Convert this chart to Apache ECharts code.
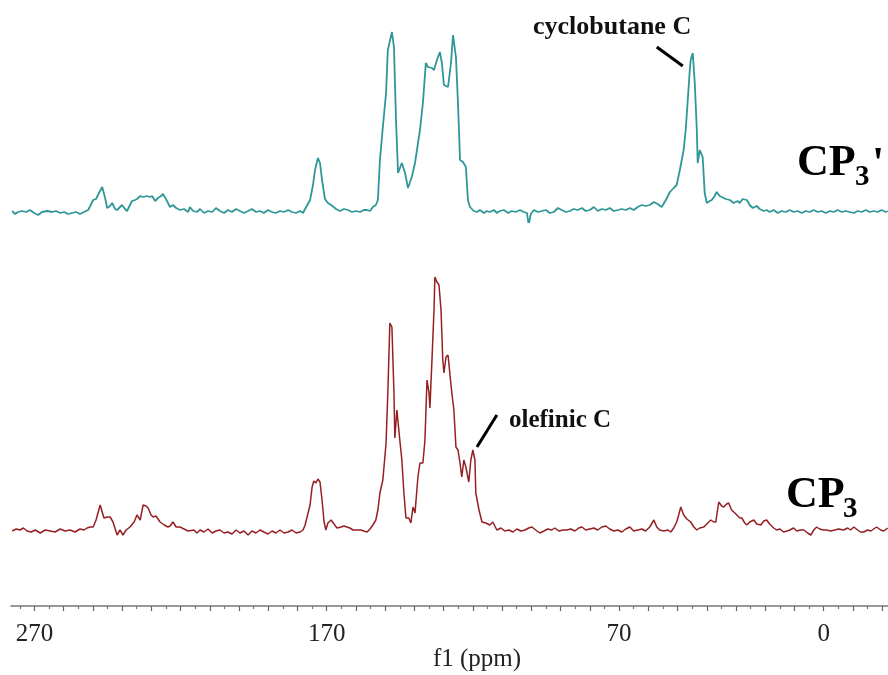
<!DOCTYPE html>
<html>
<head>
<meta charset="utf-8">
<title>13C CP/MAS NMR — CP3 and CP3'</title>
<script src="https://cdn.jsdelivr.net/npm/echarts@6/dist/echarts.min.js"></script>
<style>
  html, body { margin: 0; padding: 0; background: #ffffff; }
  #chart { width: 888px; height: 675px; }
</style>
</head>
<body>
<div id="chart"></div>
<script>
// Chemical shift window (ppm), drawn high-to-low as is usual for NMR
const ppmRange = [-22, 278];
const tickLabelValues = [270, 170, 70, 0];

// CP3' spectrum: [chemical shift (ppm), intensity (a.u.)]
const cp3PrimeSpectrum = [
  [277.6,1],[276.6,-2],[275.6,0],[274.2,1],[272.8,0],[271.5,2],[270.1,-1],[268.7,-3],[267.4,0],[265.6,1],
  [263.9,0],[262.6,1],[261.2,-1],[259.8,0],[258.5,-2],[257.1,-1],[255.7,0],[254.4,-2],[253.0,0],[251.6,2],
  [250.9,6],[249.9,12],[248.9,13],[247.9,19],[246.8,25],[245.8,14],[245.1,4],[244.1,6],[243.4,9],[242.4,3],
  [241.7,2],[240.7,5],[240.0,7],[239.0,3],[238.3,1],[237.3,7],[236.6,11],[235.6,12],[234.9,13],[233.8,16],
  [232.8,15],[231.5,16],[230.4,15],[229.7,16],[228.7,11],[227.7,14],[226.7,16],[226.0,18],[225.0,13],[223.6,5],
  [222.6,7],[221.5,4],[220.2,2],[218.8,3],[217.4,0],[216.8,5],[215.7,1],[214.4,0],[213.3,3],[212.0,-1],
  [210.6,1],[209.2,0],[207.9,4],[206.5,1],[205.1,-1],[203.8,2],[202.4,0],[201.0,3],[199.7,1],[198.3,-1],
  [196.9,1],[195.6,3],[194.2,0],[192.8,1],[191.5,-1],[190.1,2],[188.7,0],[187.4,-1],[186.0,1],[184.6,0],
  [183.2,2],[181.9,0],[180.5,-1],[179.1,1],[178.1,-1],[177.4,3],[176.8,5],[175.7,12],[174.7,27],[174.0,42],
  [173.0,54],[172.3,49],[171.6,32],[170.6,13],[169.6,9],[168.5,7],[167.9,8],[166.8,3],[165.5,1],[164.1,3],
  [162.7,2],[161.4,0],[160.0,1],[158.6,0],[157.3,2],[156.2,2],[155.2,1],[154.2,5],[153.2,7],[152.5,12],
  [151.8,52],[150.8,85],[149.7,119],[149.1,162],[147.7,180],[147.0,165],[146.3,92],[145.6,39],[145.0,40],[144.3,49],
  [143.2,39],[142.2,24],[140.9,35],[139.8,49],[138.1,82],[137.1,109],[136.1,149],[135.4,145],[134.0,144],[133.3,142],
  [132.3,152],[131.3,160],[130.6,149],[129.9,127],[128.5,125],[127.5,149],[126.8,177],[125.8,155],[125.1,109],[124.4,52],
  [123.4,50],[122.4,45],[121.7,12],[121.0,5],[119.7,1],[118.6,0],[117.6,2],[116.2,-1],[115.2,1],[114.2,0],
  [112.8,2],[111.8,-1],[110.8,1],[109.4,2],[108.0,-1],[106.7,1],[105.3,0],[103.9,2],[102.6,0],[101.5,-1],
  [100.9,-13],[100.2,-2],[99.1,2],[97.8,0],[96.4,1],[95.0,2],[93.7,-1],[92.3,0],[90.9,4],[89.6,2],
  [88.2,0],[86.8,1],[85.5,3],[84.1,2],[82.7,4],[81.4,1],[80.0,2],[78.6,5],[77.3,1],[75.9,3],
  [74.5,2],[73.2,4],[71.8,1],[70.4,2],[69.1,3],[67.7,2],[66.3,4],[65.0,2],[63.6,5],[62.2,7],
  [60.9,6],[59.5,7],[58.1,10],[56.8,8],[55.4,5],[54.0,12],[52.6,20],[51.3,24],[50.3,27],[49.2,42],
  [47.9,62],[47.2,82],[46.5,112],[45.8,142],[45.5,152],[44.8,159],[44.1,129],[43.4,82],[43.1,49],[42.4,62],
  [42.1,64],[41.4,55],[40.7,19],[40.0,9],[39.0,11],[38.3,12],[37.3,16],[36.6,20],[35.6,16],[34.9,15],
  [33.5,13],[32.1,12],[30.8,9],[29.4,11],[28.7,9],[27.7,13],[26.3,12],[25.3,7],[24.3,4],[22.9,6],
  [21.9,3],[20.5,1],[19.5,2],[18.5,0],[17.1,2],[15.7,-1],[14.4,1],[13.0,0],[11.6,2],[10.3,0],
  [8.9,1],[7.5,-1],[6.2,1],[4.8,0],[3.4,2],[2.1,0],[0.7,1],[-0.7,-1],[-2.1,1],[-3.4,0],
  [-4.8,2],[-6.2,0],[-7.5,1],[-8.9,0],[-10.3,-1],[-11.6,1],[-13.0,0],[-14.4,2],[-15.7,0],[-17.1,1],
  [-18.5,0],[-19.8,2],[-21.2,0],[-21.9,1]
];

// CP3 spectrum: [chemical shift (ppm), intensity (a.u.)]
const cp3Spectrum = [
  [277.6,-1],[276.2,1],[274.9,0],[273.8,2],[272.5,-1],[271.1,-2],[269.7,0],[268.0,-3],[266.3,0],[264.6,-1],
  [262.9,-2],[261.2,1],[259.5,-1],[257.8,0],[256.1,-2],[254.4,1],[253.0,0],[252.0,2],[250.9,3],[249.9,3],
  [248.9,10],[247.5,25],[246.8,18],[246.2,12],[245.1,13],[244.1,13],[243.1,8],[241.7,-5],[240.7,0],[239.7,-5],
  [238.6,0],[237.3,3],[235.9,8],[234.9,15],[233.8,10],[232.8,25],[231.8,24],[231.1,22],[230.1,15],[229.4,13],
  [228.4,14],[227.0,8],[225.6,5],[224.3,3],[223.6,4],[222.6,8],[221.5,3],[220.2,3],[218.8,1],[217.4,-1],
  [216.8,-2],[215.4,0],[214.4,-3],[213.3,0],[212.0,-2],[210.6,1],[209.2,-3],[207.9,-1],[206.5,0],[205.1,-3],
  [203.8,-2],[202.4,-4],[201.0,0],[199.7,-3],[198.3,-1],[196.9,-5],[195.6,-1],[194.2,-3],[192.8,0],[191.5,-2],
  [190.1,-4],[188.7,-1],[187.4,-3],[186.0,0],[184.6,-3],[183.2,-2],[181.9,0],[180.5,-3],[179.1,-2],[178.1,0],
  [177.4,5],[176.8,7],[175.7,25],[175.0,43],[174.4,49],[173.7,47],[173.0,51],[172.3,48],[171.6,30],[170.9,8],
  [170.3,0],[169.6,7],[168.5,10],[167.5,6],[166.5,2],[165.1,3],[164.1,4],[163.1,3],[162.1,2],[161.0,0],
  [159.7,0],[158.3,0],[157.3,-1],[156.2,-2],[155.2,1],[154.2,5],[153.2,10],[152.5,20],[151.8,37],[150.8,50],
  [149.7,87],[149.1,137],[148.4,207],[147.7,203],[147.0,137],[146.7,92],[146.0,120],[145.6,122],[145.0,90],[144.3,70],
  [143.6,37],[142.9,12],[141.9,12],[141.2,7],[140.5,23],[139.8,17],[138.8,53],[138.1,67],[137.1,67],[136.4,90],
  [135.7,150],[135.0,137],[134.7,122],[134.0,170],[133.3,220],[133.0,253],[132.3,248],[131.6,245],[130.9,220],[130.3,170],
  [129.9,157],[129.2,173],[128.5,175],[127.9,157],[127.2,137],[126.5,120],[125.8,83],[125.1,80],[124.4,67],[123.8,53],
  [123.1,70],[122.4,63],[121.4,48],[120.7,70],[120.0,80],[119.3,70],[119.0,37],[117.9,20],[116.9,8],[115.6,7],
  [114.2,5],[113.2,8],[111.8,0],[110.4,2],[109.1,-1],[107.7,0],[106.3,-2],[105.0,1],[103.6,-1],[102.2,0],
  [100.9,2],[99.8,3],[98.5,0],[97.1,-3],[95.7,-1],[94.4,1],[93.0,0],[92.0,2],[90.6,-1],[89.2,0],
  [87.9,0],[86.5,1],[85.1,-1],[83.8,2],[82.7,3],[81.4,0],[80.0,1],[78.6,2],[77.3,0],[75.9,3],
  [74.5,4],[73.2,1],[71.8,-1],[70.4,0],[69.1,-2],[67.7,1],[66.3,3],[65.0,-1],[63.6,0],[62.2,1],
  [60.9,-1],[59.5,3],[58.1,10],[57.1,3],[56.1,0],[54.7,-1],[53.3,0],[52.3,-2],[51.3,2],[50.3,8],
  [49.6,15],[48.9,23],[47.9,15],[46.8,11],[45.5,8],[44.4,3],[43.4,0],[42.4,2],[41.0,3],[40.0,6],
  [38.6,10],[37.6,8],[36.9,8],[35.9,28],[34.9,24],[34.2,23],[33.2,26],[32.5,27],[31.5,20],[30.4,17],
  [29.7,15],[28.7,12],[28.0,12],[27.0,7],[26.3,5],[25.3,8],[23.9,10],[22.9,6],[21.5,5],[20.5,9],
  [19.5,10],[18.5,6],[17.1,2],[16.1,0],[15.0,1],[13.7,-2],[12.6,-1],[11.6,0],[10.3,2],[9.2,-1],
  [7.9,0],[6.8,0],[5.5,-3],[4.4,-5],[3.4,0],[2.4,3],[1.4,1],[0.0,0],[-1.0,0],[-2.4,-1],
  [-3.8,0],[-5.1,1],[-6.8,0],[-8.2,2],[-9.2,0],[-10.3,3],[-11.6,0],[-12.6,-2],[-13.7,-2],[-15.0,0],
  [-16.1,-1],[-17.1,1],[-18.1,3],[-19.5,0],[-20.5,-1],[-21.9,2]
];

// Leader lines for the peak assignments: [from, to] in [ppm, intensity]
const cyclobutaneLeader = [[57.1, 165], [48.2, 146]];
const olefinicLeader = [[111.8, 115], [118.6, 83]];

// Tick marks: long every 10 ppm, short on the 5s in between
const majorTicks = [];
const minorTicks = [];
for (let v = -20; v <= 275; v += 5) {
  if (v % 10 === 0) majorTicks.push(v); else minorTicks.push(v);
}

const SERIF = '"Liberation Serif", "Times New Roman", serif';
const TEAL = '#2f9797';
const MAROON = '#951f22';

const chart = echarts.init(document.getElementById('chart'), null, { renderer: 'canvas' });

function hiddenX(gridIndex) {
  return {
    type: 'value', gridIndex, min: ppmRange[0], max: ppmRange[1], inverse: true,
    show: false
  };
}
function hiddenY(gridIndex, min, max) {
  return { type: 'value', gridIndex, min, max, show: false };
}
function leader(coords) {
  return {
    silent: true,
    symbol: ['none', 'none'],
    animation: false,
    label: { show: false },
    lineStyle: { color: '#000', width: 3, type: 'solid' },
    data: [[{ coord: coords[0] }, { coord: coords[1] }]]
  };
}

chart.setOption({
  animation: false,
  backgroundColor: '#ffffff',
  grid: [
    { left: 11, right: 0, top: 12, height: 210 },   // CP3'
    { left: 11, right: 0, top: 262, height: 278 },  // CP3
    { left: 11, right: 0, top: 556, height: 50 },   // ppm scale, long ticks + labels
    { left: 11, right: 0, top: 556, height: 50 }    // ppm scale, short ticks
  ],
  xAxis: [
    hiddenX(0),
    hiddenX(1),
    {
      type: 'value', gridIndex: 2, min: ppmRange[0], max: ppmRange[1], inverse: true,
      position: 'bottom',
      axisLine: { show: true, lineStyle: { color: '#777', width: 1.5 } },
      axisTick: { show: true, customValues: majorTicks, length: 5, inside: false,
                  lineStyle: { color: '#666', width: 1.2 } },
      axisLabel: { show: true, customValues: tickLabelValues, margin: 16,
                   color: '#222', fontFamily: SERIF, fontSize: 25 },
      splitLine: { show: false }
    },
    {
      type: 'value', gridIndex: 3, min: ppmRange[0], max: ppmRange[1], inverse: true,
      position: 'bottom',
      axisLine: { show: false },
      axisTick: { show: true, customValues: minorTicks, length: 3,
                  lineStyle: { color: '#777', width: 1.2 } },
      axisLabel: { show: false },
      splitLine: { show: false }
    }
  ],
  yAxis: [
    hiddenY(0, -10, 200),
    hiddenY(1, -10, 268),
    hiddenY(2, 0, 1),
    hiddenY(3, 0, 1)
  ],
  series: [
    {
      name: "CP3'", type: 'line', xAxisIndex: 0, yAxisIndex: 0,
      data: cp3PrimeSpectrum, showSymbol: false, smooth: false, silent: true,
      lineStyle: { color: TEAL, width: 1.8 },
      markLine: leader(cyclobutaneLeader)
    },
    {
      name: 'CP3', type: 'line', xAxisIndex: 1, yAxisIndex: 1,
      data: cp3Spectrum, showSymbol: false, smooth: false, silent: true,
      lineStyle: { color: MAROON, width: 1.5 },
      markLine: leader(olefinicLeader)
    }
  ],
  graphic: [
    { type: 'text', x: 533, y: 27, silent: true,
      style: { text: 'cyclobutane C', fill: '#111', align: 'left', verticalAlign: 'middle',
               font: 'bold 26px ' + SERIF } },
    { type: 'text', x: 509, y: 421, silent: true,
      style: { text: 'olefinic C', fill: '#111', align: 'left', verticalAlign: 'middle',
               font: 'bold 25px ' + SERIF } },
    // CP3' sample label
    { type: 'text', x: 797, y: 164, silent: true,
      style: { text: 'CP', fill: '#000', verticalAlign: 'middle', font: 'bold 44px ' + SERIF } },
    { type: 'text', x: 855, y: 178, silent: true,
      style: { text: '3', fill: '#000', verticalAlign: 'middle', font: 'bold 29px ' + SERIF } },
    { type: 'text', x: 872, y: 166, silent: true,
      style: { text: "'", fill: '#000', verticalAlign: 'middle', font: 'bold 44px ' + SERIF } },
    // CP3 sample label
    { type: 'text', x: 786, y: 496, silent: true,
      style: { text: 'CP', fill: '#000', verticalAlign: 'middle', font: 'bold 44px ' + SERIF } },
    { type: 'text', x: 843, y: 510, silent: true,
      style: { text: '3', fill: '#000', verticalAlign: 'middle', font: 'bold 29px ' + SERIF } },
    // axis title
    { type: 'text', x: 477, y: 659, silent: true,
      style: { text: 'f1 (ppm)', fill: '#222', align: 'center', verticalAlign: 'middle',
               font: '25px ' + SERIF } }
  ]
});
</script>
</body>
</html>
